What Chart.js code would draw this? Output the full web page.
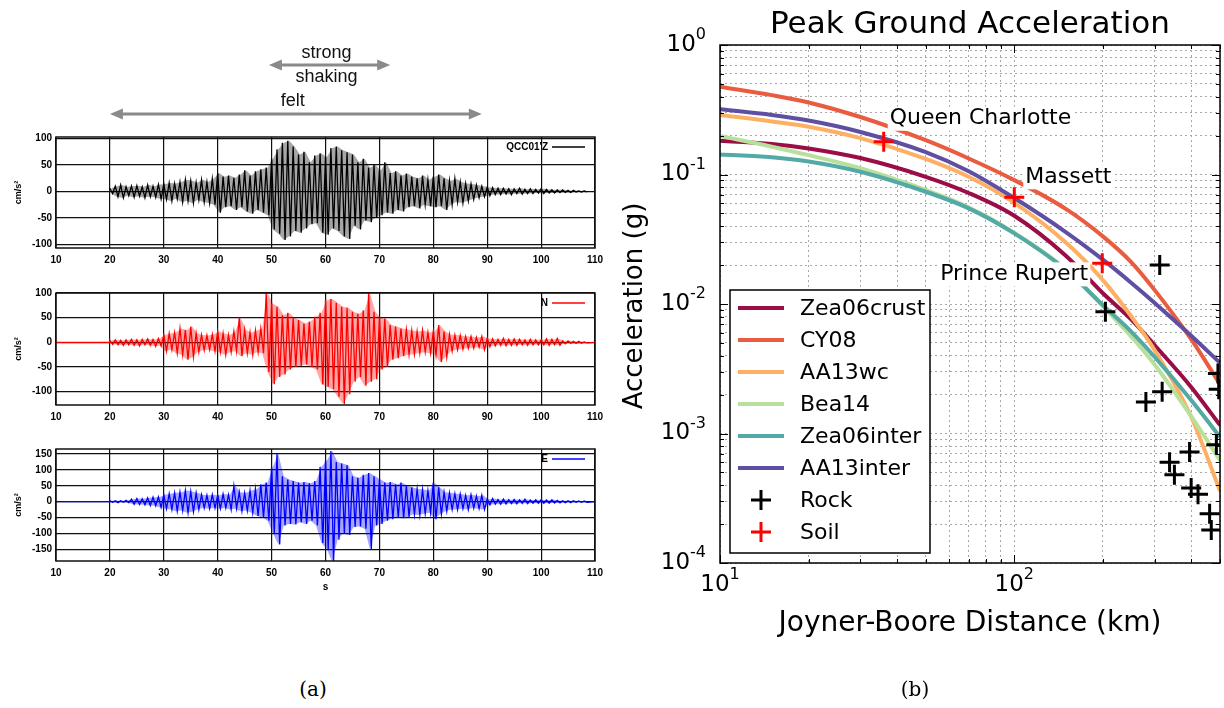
<!DOCTYPE html>
<html>
<head>
<meta charset="utf-8">
<script src="https://cdn.jsdelivr.net/npm/chart.js@4.4.0/dist/chart.umd.min.js"></script>
<style>
  body { margin: 0; background: #fff; width: 1224px; height: 708px; position: relative; overflow: hidden; }
  canvas { position: absolute; }
  .cap { position: absolute; font-family: 'DejaVu Serif', serif; font-size: 20px; color: #000; width: 60px; text-align: center; }
</style>
</head>
<body>
<canvas id="trZ" width="620" height="270" style="left:0;top:0"></canvas>
<canvas id="trN" width="620" height="160" style="left:0;top:270px"></canvas>
<canvas id="trE" width="620" height="200" style="left:0;top:430px"></canvas>
<canvas id="pga" width="624" height="708" style="left:600px;top:0"></canvas>
<div class="cap" style="left:283px;top:677px">(a)</div>
<div class="cap" style="left:885px;top:677px">(b)</div>
<script>
// ---- (a) accelerograms, envelope read per second (cm/s^2)
const traceSec = [20, 21, 22, 23, 24, 25, 26, 27, 28, 29, 30, 31, 32, 33, 34, 35, 36, 37, 38, 39,
  40, 41, 42, 43, 44, 45, 46, 47, 48, 49, 50, 51, 52, 53, 54, 55, 56, 57, 58, 59,
  60, 61, 62, 63, 64, 65, 66, 67, 68, 69, 70, 71, 72, 73, 74, 75, 76, 77, 78, 79,
  80, 81, 82, 83, 84, 85, 86, 87, 88, 89, 90, 91, 92, 93, 94, 95, 96, 97, 98, 99,
  100, 101, 102, 103, 104, 105, 106, 107, 108]

const zUpper = [6, 10, 12, 9, 10, 11, 9, 12, 10, 13, 14, 16, 15, 18, 22, 20, 17, 22, 18, 24,
  35, 28, 30, 26, 32, 40, 30, 38, 42, 45, 62, 80, 92, 96, 85, 70, 75, 55, 68, 72,
  65, 82, 85, 78, 74, 70, 55, 62, 45, 50, 40, 55, 35, 38, 30, 34, 28, 25, 30, 22,
  28, 32, 25, 20, 24, 18, 15, 14, 12, 10, 8, 7, 6, 6, 5, 5, 6, 4, 5, 4,
  5, 4, 3, 3, 3, 2, 2, 1, 1]
const zLower = [-4, -10, -12, -8, -11, -9, -12, -10, -11, -14, -15, -18, -14, -20, -18, -22, -16, -20, -22, -25,
  -40, -30, -28, -35, -30, -38, -42, -35, -40, -45, -72, -80, -92, -85, -75, -78, -70, -62, -60, -78,
  -82, -70, -75, -85, -90, -65, -72, -55, -58, -50, -45, -40, -42, -35, -38, -30, -28, -32, -25, -28,
  -30, -28, -35, -25, -20, -22, -18, -15, -12, -10, -8, -6, -6, -5, -6, -4, -5, -4, -4, -3,
  -4, -3, -3, -2, -2, -2, -1, -1, -1]

const nUpper = [4, 5, 4, 5, 6, 5, 6, 7, 6, 8, 15, 18, 20, 28, 25, 32, 18, 15, 14, 16,
  22, 18, 15, 22, 50, 25, 20, 24, 28, 100, 78, 72, 55, 60, 50, 45, 38, 42, 52, 60,
  86, 88, 80, 72, 70, 62, 58, 65, 100, 62, 50, 48, 35, 32, 28, 26, 24, 22, 24, 20,
  22, 35, 22, 16, 15, 14, 12, 12, 10, 12, 8, 7, 6, 8, 6, 7, 6, 5, 6, 5,
  5, 7, 6, 8, 3, 3, 2, 2, 1]
const nLower = [-4, -5, -6, -5, -6, -7, -5, -6, -8, -7, -18, -15, -22, -25, -35, -30, -20, -16, -15, -18,
  -20, -25, -20, -18, -28, -22, -25, -20, -22, -60, -85, -70, -65, -55, -50, -48, -45, -50, -55, -85,
  -90, -95, -110, -125, -105, -80, -70, -88, -80, -75, -55, -50, -35, -32, -28, -25, -24, -22, -20, -22,
  -25, -40, -30, -18, -15, -14, -12, -12, -10, -15, -9, -7, -6, -7, -6, -6, -5, -6, -5, -5,
  -5, -6, -5, -6, -3, -2, -2, -2, -1]

const eUpper = [3, 3, 3, 4, 8, 10, 9, 12, 14, 15, 22, 25, 28, 30, 35, 32, 28, 22, 20, 22,
  20, 24, 22, 50, 30, 28, 35, 40, 55, 60, 110, 150, 80, 70, 65, 60, 62, 58, 65, 110,
  130, 160, 125, 120, 115, 80, 75, 85, 90, 80, 70, 60, 62, 55, 60, 50, 45, 40, 38, 35,
  60, 45, 30, 28, 25, 24, 20, 22, 18, 20, 8, 10, 7, 8, 6, 7, 6, 8, 5, 6,
  6, 5, 6, 4, 3, 3, 3, 2, 2]
const eLower = [-2, -3, -2, -3, -8, -9, -10, -12, -13, -18, -22, -25, -30, -28, -35, -32, -25, -20, -22, -20,
  -22, -20, -25, -22, -30, -28, -35, -45, -50, -60, -100, -135, -75, -70, -72, -65, -70, -60, -75, -130,
  -150, -190, -120, -100, -105, -80, -78, -85, -150, -75, -70, -60, -55, -50, -52, -48, -40, -42, -38, -35,
  -55, -40, -30, -25, -25, -22, -25, -20, -22, -25, -10, -8, -8, -7, -6, -7, -5, -6, -5, -5,
  -5, -5, -4, -4, -3, -3, -2, -2, -2]

const secTicks = [10, 20, 30, 40, 50, 60, 70, 80, 90, 100, 110]
const zTicks = [-100, -50, 0, 50, 100]
const nTicks = [-100, -50, 0, 50, 100]
const eTicks = [-150, -100, -50, 0, 50, 100, 150]
const feltRange = [20, 89]
const strongRange = [49.5, 72]

// ---- (b) peak ground acceleration (g) vs distance (km)
const distKm = [10, 15, 20, 30, 50, 70, 100, 150, 200, 250, 300, 400, 500]
const zea06crust = [0.182, 0.172, 0.159, 0.134, 0.096, 0.072, 0.048, 0.0235, 0.0121, 0.00757, 0.0048, 0.00227, 0.00116]
const cy08 = [0.477, 0.41, 0.36, 0.278, 0.184, 0.133, 0.0905, 0.054, 0.0333, 0.021, 0.0128, 0.0053, 0.0024]
const aa13wc = [0.288, 0.257, 0.234, 0.191, 0.132, 0.096, 0.0604, 0.0297, 0.0153, 0.008, 0.0044, 0.00133, 0.00036]
const bea14 = [0.198, 0.164, 0.141, 0.112, 0.076, 0.0558, 0.0356, 0.0185, 0.0096, 0.0056, 0.0034, 0.00135, 0.00062]
const zea06inter = [0.143, 0.136, 0.126, 0.105, 0.0736, 0.0548, 0.0351, 0.0183, 0.0098, 0.0061, 0.0039, 0.0018, 0.00094]
const aa13inter = [0.319, 0.288, 0.261, 0.213, 0.149, 0.106, 0.0658, 0.0358, 0.022, 0.01455, 0.0102, 0.00566, 0.00351]

const rockDist = [312, 204, 280, 318, 492, 495, 486, 394, 337, 350, 399, 421, 461, 467]
const rockPga = [0.02, 0.0087, 0.00175, 0.0021, 0.0029, 0.0022, 0.00082, 0.00072, 0.0006, 0.00048, 0.00038, 0.00034, 0.00024, 0.00018]
const soilSites = ['Queen Charlotte', 'Massett', 'Prince Rupert']
const soilDist = [36, 100, 199]
const soilPga = [0.179, 0.0667, 0.0206]

const pgaXLabels = [10, 100]
const pgaYLabels = [1e-4, 1e-3, 1e-2, 1e-1, 1]

const modelNames = ['Zea06crust', 'CY08', 'AA13wc', 'Bea14', 'Zea06inter', 'AA13inter']
const modelData = [zea06crust, cy08, aa13wc, bea14, zea06inter, aa13inter]
const modelColors = ['#9b0d46', '#e95c3f', '#fdb063', '#b8e09c', '#52a9a5', '#5e4fa2']

// grid ticks 1..9 per decade
const decadeTicks = (lo, hi) => {
  const out = []
  for (let e = lo; e < hi; e++) for (let m = 1; m < 10; m++) out.push(m * Math.pow(10, e))
  out.push(Math.pow(10, hi))
  return out
}
const pgaXGrid = decadeTicks(1, 2).concat([200, 300, 400, 500])
const pgaYGrid = decadeTicks(-4, 0)

const tickFont = { family: 'Liberation Sans', size: 10, weight: 'bold' }

function zigzag(up, lo, lead) {
  const pts = []
  if (lead) pts.push({ x: 10, y: 0 }, { x: traceSec[0], y: 0 })
  traceSec.forEach((t, i) => {
    pts.push({ x: t, y: up[i] })
    pts.push({ x: t + 0.5, y: lo[i] })
  })
  if (lead) pts.push({ x: 110, y: 0 })
  return pts
}

function arrow(ctx, x1, x2, y) {
  ctx.strokeStyle = '#8a8a8a'
  ctx.fillStyle = '#8a8a8a'
  ctx.lineWidth = 3
  ctx.beginPath()
  ctx.moveTo(x1 + 8, y)
  ctx.lineTo(x2 - 8, y)
  ctx.stroke()
  ctx.beginPath()
  ctx.moveTo(x1, y); ctx.lineTo(x1 + 13, y - 5.5); ctx.lineTo(x1 + 13, y + 5.5); ctx.closePath()
  ctx.moveTo(x2, y); ctx.lineTo(x2 - 13, y - 5.5); ctx.lineTo(x2 - 13, y + 5.5); ctx.closePath()
  ctx.fill()
}

function traceFrame(label, color, extra) {
  return {
    id: 'traceFrame',
    afterDraw(chart) {
      const { ctx, chartArea: a } = chart
      ctx.save()
      ctx.strokeStyle = '#111'
      ctx.lineWidth = 1.5
      ctx.strokeRect(a.left, a.top, a.right - a.left, a.bottom - a.top)
      // little legend
      ctx.fillStyle = '#000'
      ctx.font = 'bold 10px "Liberation Sans"'
      ctx.textAlign = 'right'
      ctx.textBaseline = 'middle'
      ctx.fillText(label, a.right - 47, a.top + 10)
      ctx.strokeStyle = color
      ctx.lineWidth = 1.5
      ctx.beginPath()
      ctx.moveTo(a.right - 43, a.top + 10)
      ctx.lineTo(a.right - 10, a.top + 10)
      ctx.stroke()
      // y title
      ctx.save()
      ctx.translate(19, (a.top + a.bottom) / 2)
      ctx.rotate(-Math.PI / 2)
      ctx.textAlign = 'center'
      ctx.font = 'bold 9px "Liberation Sans"'
      ctx.fillText('cm/s²', 0, 0)
      ctx.restore()
      if (extra) extra(chart)
      ctx.restore()
    }
  }
}

function makeTrace(id, up, lo, color, fillColor, yMin, yMax, yTicks, label, padTop, xH, lead, extra) {
  return new Chart(document.getElementById(id), {
    type: 'line',
    data: {
      datasets: [{
        data: zigzag(up, lo, lead),
        borderColor: color,
        borderWidth: 1.3,
        pointRadius: 0,
        tension: 0,
        fill: false
      }, {
        // shading between the read envelopes
        data: traceSec.map((t, i) => ({ x: t + 0.25, y: up[i] })),
        borderWidth: 0,
        pointRadius: 0,
        backgroundColor: fillColor,
        fill: '+1'
      }, {
        data: traceSec.map((t, i) => ({ x: t + 0.25, y: lo[i] })),
        borderWidth: 0,
        pointRadius: 0,
        fill: false
      }]
    },
    options: {
      responsive: false,
      animation: false,
      events: [],
      layout: { autoPadding: false, padding: { left: 0, right: 25, top: padTop, bottom: 0 } },
      plugins: { legend: { display: false }, tooltip: { enabled: false } },
      scales: {
        x: {
          type: 'linear', min: 10, max: 110,
          afterBuildTicks: s => { s.ticks = secTicks.map(v => ({ value: v })) },
          afterFit: s => { s.height = xH },
          grid: { color: '#111', lineWidth: 1.2, drawTicks: false },
          border: { display: false },
          ticks: { font: tickFont, color: '#000', padding: 6, maxRotation: 0, autoSkip: false }
        },
        y: {
          min: yMin, max: yMax,
          afterBuildTicks: s => { s.ticks = yTicks.map(v => ({ value: v })) },
          afterFit: s => { s.width = 56 },
          grid: { color: '#111', lineWidth: 1.2, drawTicks: false },
          border: { display: false },
          ticks: { font: tickFont, color: '#000', padding: 4, autoSkip: false }
        }
      }
    },
    plugins: [traceFrame(label, color, extra)]
  })
}

makeTrace('trZ', zUpper, zLower, '#000', 'rgba(0,0,0,0.35)', -107, 103, zTicks, "QCC01'Z", 137, 22, false, chart => {
  const { ctx } = chart
  const x = chart.scales.x
  arrow(ctx, x.getPixelForValue(strongRange[0]), x.getPixelForValue(strongRange[1]), 65)
  arrow(ctx, x.getPixelForValue(feltRange[0]), x.getPixelForValue(feltRange[1]), 114)
  ctx.fillStyle = '#111'
  ctx.font = '18px "Liberation Sans"'
  ctx.textAlign = 'center'
  ctx.textBaseline = 'middle'
  const sMid = x.getPixelForValue((strongRange[0] + strongRange[1]) / 2) - 3
  ctx.fillText('strong', sMid, 53)
  ctx.fillText('shaking', sMid, 77)
  ctx.fillText('felt', x.getPixelForValue((feltRange[0] + feltRange[1]) / 2) - 3, 101)
})
makeTrace('trN', nUpper, nLower, '#ff0000', 'rgba(255,0,0,0.35)', -127, 100, nTicks, 'N', 23, 25, true)
makeTrace('trE', eUpper, eLower, '#0000ff', 'rgba(0,0,255,0.35)', -187, 166, eTicks, 'E', 19, 69, true, chart => {
  const { ctx, chartArea: a } = chart
  ctx.fillStyle = '#000'
  ctx.font = 'bold 10px "Liberation Sans"'
  ctx.textAlign = 'center'
  ctx.textBaseline = 'middle'
  ctx.fillText('s', (a.left + a.right) / 2, a.bottom + 26)
})

// ---- (b)
const FONT = '"DejaVu Sans", sans-serif'

function powLabel(ctx, exp, x, y, align) {
  ctx.font = '23px ' + FONT
  const w1 = ctx.measureText('10').width
  ctx.font = '16px ' + FONT
  const w2 = ctx.measureText(String(exp)).width
  const start = align === 'right' ? x - w1 - w2 : x - (w1 + w2) / 2
  ctx.textAlign = 'left'
  ctx.textBaseline = 'middle'
  ctx.font = '23px ' + FONT
  ctx.fillText('10', start, y)
  ctx.font = '16px ' + FONT
  ctx.fillText(String(exp), start + w1, y - 10)
}

const soilOffsets = [[6, -23, 'left'], [11, -20, 'left'], [-14, 11, 'right']]

const pgaDecor = {
  id: 'pgaDecor',
  afterDatasetsDraw(chart) {
    const { ctx } = chart
    const xs = chart.scales.x, ys = chart.scales.y
    ctx.save()
    ctx.font = '22px ' + FONT
    ctx.textBaseline = 'middle'
    soilSites.forEach((name, i) => {
      const px = xs.getPixelForValue(soilDist[i]) + soilOffsets[i][0]
      const py = ys.getPixelForValue(soilPga[i]) + soilOffsets[i][1]
      const w = ctx.measureText(name).width
      const left = soilOffsets[i][2] === 'left' ? px : px - w
      ctx.fillStyle = '#fff'
      ctx.fillRect(left - 2, py - 12, w + 4, 24)
      ctx.fillStyle = '#000'
      ctx.textAlign = 'left'
      ctx.fillText(name, left, py)
    })
    ctx.restore()
  },
  afterDraw(chart) {
    const { ctx, chartArea: a } = chart
    const xs = chart.scales.x, ys = chart.scales.y
    ctx.save()
    // inward ticks
    ctx.strokeStyle = '#000'
    ctx.lineWidth = 1
    ctx.beginPath()
    xs.ticks.forEach(t => {
      const p = Math.round(xs.getPixelForValue(t.value)) + 0.5
      const len = Number.isInteger(Math.log10(t.value)) ? 8 : 4
      ctx.moveTo(p, a.bottom); ctx.lineTo(p, a.bottom - len)
      ctx.moveTo(p, a.top); ctx.lineTo(p, a.top + len)
    })
    ys.ticks.forEach(t => {
      const p = Math.round(ys.getPixelForValue(t.value)) + 0.5
      const len = Math.abs(Math.log10(t.value) - Math.round(Math.log10(t.value))) < 1e-9 ? 8 : 4
      ctx.moveTo(a.left, p); ctx.lineTo(a.left + len, p)
      ctx.moveTo(a.right, p); ctx.lineTo(a.right - len, p)
    })
    ctx.stroke()
    ctx.lineWidth = 1.5
    ctx.strokeRect(a.left, a.top, a.right - a.left, a.bottom - a.top)
    // tick labels
    ctx.fillStyle = '#000'
    pgaXLabels.forEach(v => powLabel(ctx, Math.round(Math.log10(v)), xs.getPixelForValue(v), a.bottom + 22, 'center'))
    pgaYLabels.forEach(v => powLabel(ctx, Math.round(Math.log10(v)), a.left - 14, ys.getPixelForValue(v), 'right'))
    // titles
    ctx.textAlign = 'center'
    ctx.textBaseline = 'alphabetic'
    ctx.font = '31px ' + FONT
    ctx.fillText('Peak Ground Acceleration', (a.left + a.right) / 2, 33)
    ctx.font = '28px ' + FONT
    ctx.fillText('Joyner-Boore Distance (km)', (a.left + a.right) / 2, 631)
    ctx.save()
    ctx.translate(42, (a.top + a.bottom) / 2 + 2)
    ctx.rotate(-Math.PI / 2)
    ctx.font = '26px ' + FONT
    ctx.fillText('Acceleration (g)', 0, 0)
    ctx.restore()
    // legend
    const lx = a.left + 10, ly = 290, lw = 200, lh = 263
    ctx.fillStyle = '#fff'
    ctx.fillRect(lx, ly, lw, lh)
    ctx.strokeStyle = '#000'
    ctx.lineWidth = 1.5
    ctx.strokeRect(lx, ly, lw, lh)
    ctx.font = '22px ' + FONT
    ctx.textAlign = 'left'
    ctx.textBaseline = 'middle'
    chart.data.datasets.forEach((ds, i) => {
      const ry = ly + 18 + i * 32
      if (ds.showLine === false) {
        ctx.strokeStyle = ds.borderColor
        ctx.lineWidth = 3
        ctx.beginPath()
        ctx.moveTo(lx + 21, ry); ctx.lineTo(lx + 41, ry)
        ctx.moveTo(lx + 31, ry - 10); ctx.lineTo(lx + 31, ry + 10)
        ctx.stroke()
      } else {
        ctx.strokeStyle = ds.borderColor
        ctx.lineWidth = 4
        ctx.beginPath()
        ctx.moveTo(lx + 8, ry); ctx.lineTo(lx + 54, ry)
        ctx.stroke()
      }
      ctx.fillStyle = '#000'
      ctx.fillText(ds.label, lx + 70, ry + 1)
    })
    ctx.restore()
  }
}

const pgaSets = modelNames.map((name, i) => ({
  label: name,
  data: distKm.map((d, j) => ({ x: d, y: modelData[i][j] })),
  borderColor: modelColors[i],
  borderWidth: 4,
  pointRadius: 0,
  cubicInterpolationMode: 'monotone',
  order: 20 - i
}))
pgaSets.push({
  label: 'Rock',
  data: rockDist.map((d, j) => ({ x: d, y: rockPga[j] })),
  showLine: false,
  borderColor: '#000',
  backgroundColor: '#000',
  pointStyle: 'cross',
  pointRadius: 10,
  pointBorderWidth: 3,
  order: 2
})
pgaSets.push({
  label: 'Soil',
  data: soilDist.map((d, j) => ({ x: d, y: soilPga[j] })),
  showLine: false,
  borderColor: '#ff0000',
  backgroundColor: '#ff0000',
  pointStyle: 'cross',
  pointRadius: 10,
  pointBorderWidth: 3,
  order: 1
})

new Chart(document.getElementById('pga'), {
  type: 'line',
  data: { datasets: pgaSets },
  options: {
    responsive: false,
    animation: false,
    events: [],
    layout: { autoPadding: false, padding: { left: 0, right: 4, top: 45, bottom: 0 } },
    plugins: { legend: { display: false }, tooltip: { enabled: false } },
    scales: {
      x: {
        type: 'logarithmic', min: 10, max: 500,
        afterBuildTicks: s => { s.ticks = pgaXGrid.map(v => ({ value: v })) },
        afterFit: s => { s.height = 145 },
        ticks: { display: false, autoSkip: false },
        grid: { color: '#a8a8a8', lineWidth: 1, drawTicks: false },
        border: { display: false, dash: [2, 3] }
      },
      y: {
        type: 'logarithmic', min: 1e-4, max: 1,
        afterBuildTicks: s => { s.ticks = pgaYGrid.map(v => ({ value: v })) },
        afterFit: s => { s.width = 120 },
        ticks: { display: false, autoSkip: false },
        grid: { color: '#a8a8a8', lineWidth: 1, drawTicks: false },
        border: { display: false, dash: [2, 3] }
      }
    }
  },
  plugins: [pgaDecor]
})
</script>
</body>
</html>
